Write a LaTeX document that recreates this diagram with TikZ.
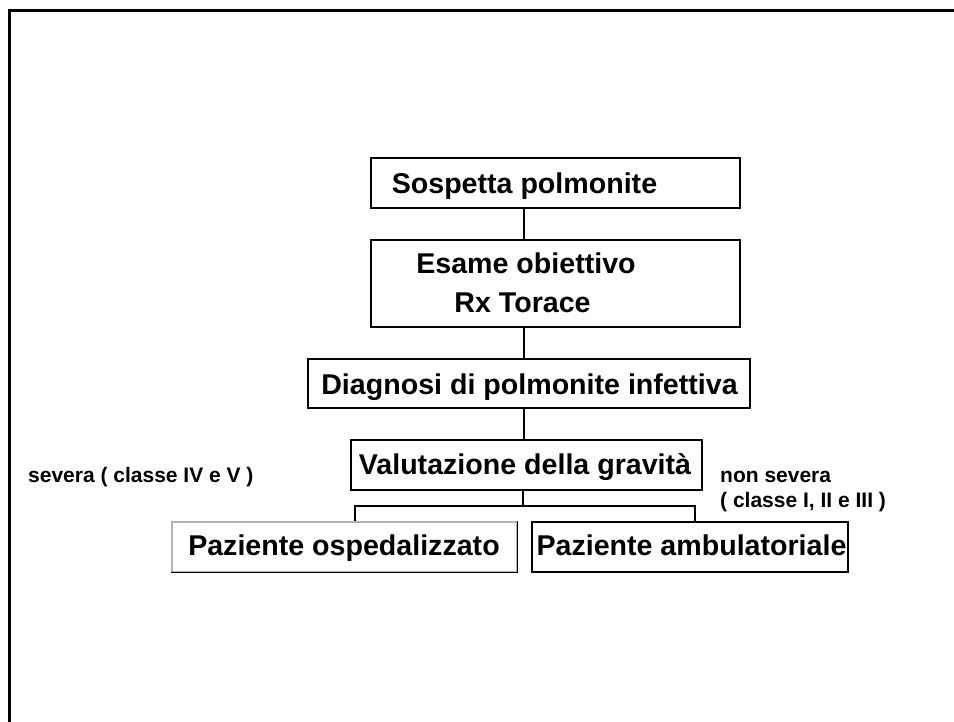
\documentclass[tikz,border=0pt]{standalone}
\usepackage{fontspec}
\setmainfont{Liberation Sans}
\begin{document}
\begin{tikzpicture}[x=1pt,y=-1pt,
  boxst/.style={draw=black,line width=1.4pt,inner sep=0pt,fill=white},
  bigtxt/.style={font=\fontsize{28.6}{39}\selectfont\bfseries,inner sep=0pt,anchor=base},
  smalltxt/.style={font=\fontsize{21}{25}\selectfont\bfseries,inner sep=0pt,anchor=base west},
  conn/.style={line width=2pt,black}]
\useasboundingbox (0,0) rectangle (954,722);
\clip (0,0) rectangle (954,722);
% outer frame
\draw[line width=3pt] (9.5,740) -- (9.5,11) -- (970,11);
% boxes
\node[boxst,minimum width=369pt,minimum height=50pt] (b1) at (555.5,183) {};
\node[boxst,minimum width=369pt,minimum height=87pt] (b2) at (555.5,283.5) {};
\node[boxst,minimum width=442pt,minimum height=49pt] (b3) at (529,383.5) {};
\node[boxst,minimum width=351pt,minimum height=50pt] (b4) at (526.5,465) {};
\node[boxst,draw=gray!60,minimum width=345pt,minimum height=50pt] (b5) at (344.5,547) {};
\node[boxst,minimum width=316pt,minimum height=50pt] (b6) at (690,547) {};
\draw[line width=1.4pt] (b5.north east) -- (b5.south east) -- (b5.south west);
% texts
\node[bigtxt] (t1) at (524.5,193.5) {Sospetta polmonite};
\node[bigtxt] (t2a) at (526,273.5) {Esame obiettivo};
\node[bigtxt] (t2b) at (522.5,312.5) {Rx Torace};
\node[bigtxt] (t3) at (529.5,394) {Diagnosi di polmonite infettiva};
\node[bigtxt] (t4) at (525,474.5) {Valutazione della gravità};
\node[bigtxt] (t5) at (344,555) {Paziente ospedalizzato};
\node[bigtxt] (t6) at (691.5,555) {Paziente ambulatoriale};
\node[smalltxt] (s1) at (28,482) {severa ( classe IV e V )};
\node[smalltxt] (s2a) at (720,482) {non severa};
\node[smalltxt] (s2b) at (720,507.5) {( classe I, II e III )};
% connectors
\coordinate (ax) at (524,0);
\coordinate (j) at (523,506);
\coordinate (l) at (355,506);
\coordinate (r) at (695,506);
\draw[conn] (b1.south -| ax) -- (b2.north -| ax);
\draw[conn] (b2.south -| ax) -- (b3.north -| ax);
\draw[conn] (b3.south -| ax) -- (b4.north -| ax);
\draw[conn] (b4.south -| j) -- (j);
\draw[conn] (b5.north -| l) -- (l) -- (r) -- (b6.north -| r);
\end{tikzpicture}
\end{document}
